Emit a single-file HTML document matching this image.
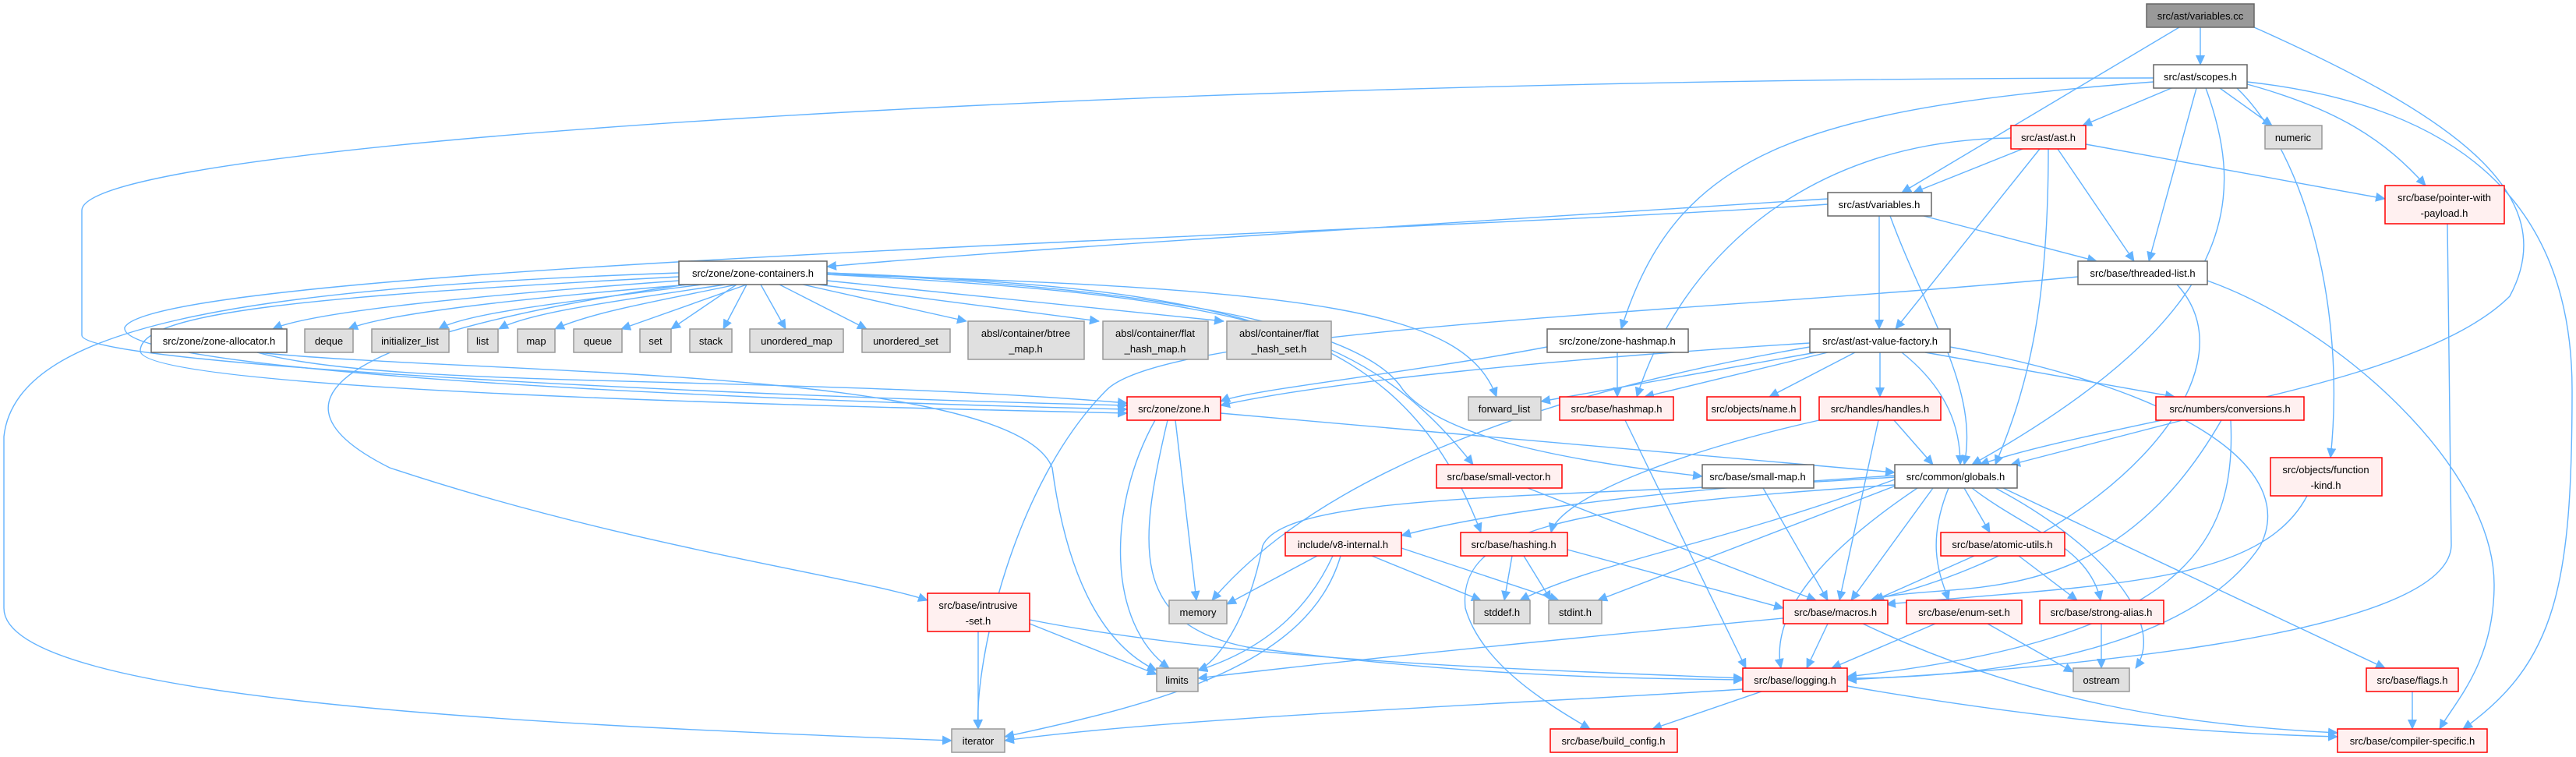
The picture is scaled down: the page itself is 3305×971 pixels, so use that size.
<!DOCTYPE html>
<html><head><meta charset="utf-8"><style>
html,body{margin:0;padding:0;background:#fff;}
svg{display:block;}
text{font-family:"Liberation Sans",sans-serif;font-size:13px;fill:#000;text-anchor:middle;}
.e path{fill:none;stroke:#63b3ff;stroke-width:1.4;}
.w{fill:#fff;stroke:#666;stroke-width:1.5;}
.r{fill:#fff0f0;stroke:#ff0000;stroke-width:1.5;}
.g{fill:#e0e0e0;stroke:#999;stroke-width:1.5;}
.k{fill:#999;stroke:#666;stroke-width:1.5;}
</style></head><body>
<svg width="3305" height="971" viewBox="0 0 3305 971" xmlns="http://www.w3.org/2000/svg">
<defs><marker id="a" markerUnits="userSpaceOnUse" markerWidth="14" markerHeight="12" refX="12" refY="6" orient="auto"><path d="M0,0 L13,6 L0,12 z" fill="#63b3ff"/></marker></defs>
<g class="e">
<path d="M2823 35 L2823 83" marker-end="url(#a)"/>
<path d="M2796 35 L2440 247" marker-end="url(#a)"/>
<path d="M2892 35 C3150 150 3290 250 3220 380 C3100 500 2700 540 2540 596" marker-end="url(#a)"/>
<path d="M2786 113 L2672 161" marker-end="url(#a)"/>
<path d="M2848 113 L2915 161" marker-end="url(#a)"/>
<path d="M2883 108 C3000 140 3060 180 3112 238" marker-end="url(#a)"/>
<path d="M2818 113 L2757 335" marker-end="url(#a)"/>
<path d="M2830 113 C2880 250 2880 400 2530 596" marker-end="url(#a)"/>
<path d="M2883 105 C3200 140 3300 300 3300 500 C3300 750 3280 850 3160 935" marker-end="url(#a)"/>
<path d="M2763 100 C1500 100 105 180 105 270 L105 430 C105 470 1000 510 1446 520" marker-end="url(#a)"/>
<path d="M2763 105 C2300 140 2150 200 2080 422" marker-end="url(#a)"/>
<path d="M2870 113 C2960 200 3010 400 2990 587" marker-end="url(#a)"/>
<path d="M2595 191 L2455 247" marker-end="url(#a)"/>
<path d="M2617 191 L2432 422" marker-end="url(#a)"/>
<path d="M2640 191 L2738 335" marker-end="url(#a)"/>
<path d="M2676 185 L3060 255" marker-end="url(#a)"/>
<path d="M2628 191 C2628 400 2600 500 2560 596" marker-end="url(#a)"/>
<path d="M2580 177 C2300 180 2150 350 2100 509" marker-end="url(#a)"/>
<path d="M2345 255 C1800 290 1300 320 1061 342" marker-end="url(#a)"/>
<path d="M2345 262 C1800 300 200 340 160 420 C150 480 1000 515 1446 525" marker-end="url(#a)"/>
<path d="M2468 277 L2690 335" marker-end="url(#a)"/>
<path d="M2411 277 L2411 422" marker-end="url(#a)"/>
<path d="M2425 277 C2470 400 2540 500 2520 596" marker-end="url(#a)"/>
<path d="M2666 355 C2200 400 1500 420 1420 500 C1300 620 1250 850 1255 935" marker-end="url(#a)"/>
<path d="M2832 360 C3000 420 3200 600 3200 750 C3200 850 3150 900 3130 935" marker-end="url(#a)"/>
<path d="M2793 365 C2900 480 2700 700 2400 770" marker-end="url(#a)"/>
<path d="M871 360 C600 380 400 400 350 422" marker-end="url(#a)"/>
<path d="M885 365 C700 380 500 400 447 422" marker-end="url(#a)"/>
<path d="M900 365 C750 385 600 400 563 422" marker-end="url(#a)"/>
<path d="M930 365 C800 385 680 400 640 422" marker-end="url(#a)"/>
<path d="M945 365 C850 385 760 400 712 422" marker-end="url(#a)"/>
<path d="M958 365 L797 422" marker-end="url(#a)"/>
<path d="M945 365 L861 422" marker-end="url(#a)"/>
<path d="M958 365 L928 422" marker-end="url(#a)"/>
<path d="M976 365 L1008 422" marker-end="url(#a)"/>
<path d="M1000 365 L1112 422" marker-end="url(#a)"/>
<path d="M1030 365 L1240 412" marker-end="url(#a)"/>
<path d="M1050 365 L1410 412" marker-end="url(#a)"/>
<path d="M1061 360 L1570 412" marker-end="url(#a)"/>
<path d="M1061 352 C1700 370 1880 400 1920 509" marker-end="url(#a)"/>
<path d="M1061 350 C1600 370 1800 420 1900 683" marker-end="url(#a)"/>
<path d="M1061 352 C1600 380 1750 420 1890 596" marker-end="url(#a)"/>
<path d="M1061 350 C1500 370 1750 420 1800 500 C1850 560 2000 590 2184 611" marker-end="url(#a)"/>
<path d="M871 355 C400 380 180 400 180 450 C180 500 1000 520 1446 530" marker-end="url(#a)"/>
<path d="M880 365 C500 420 300 500 500 600 C800 700 1100 740 1190 770" marker-end="url(#a)"/>
<path d="M871 350 C300 370 20 420 5 560 L5 780 C5 900 700 930 1221 950" marker-end="url(#a)"/>
<path d="M330 452 C600 480 1300 470 1350 600 C1370 750 1420 830 1484 860" marker-end="url(#a)"/>
<path d="M330 452 C500 500 1000 480 1446 517" marker-end="url(#a)"/>
<path d="M1985 445 C1800 480 1600 500 1566 515" marker-end="url(#a)"/>
<path d="M2075 452 L2075 509" marker-end="url(#a)"/>
<path d="M2322 440 C2000 460 1700 490 1566 520" marker-end="url(#a)"/>
<path d="M2330 452 L1977 515" marker-end="url(#a)"/>
<path d="M2345 452 L2110 509" marker-end="url(#a)"/>
<path d="M2380 452 L2270 509" marker-end="url(#a)"/>
<path d="M2412 452 L2412 509" marker-end="url(#a)"/>
<path d="M2470 452 L2790 509" marker-end="url(#a)"/>
<path d="M2440 452 C2500 500 2515 550 2515 596" marker-end="url(#a)"/>
<path d="M2322 445 C2000 500 1700 600 1555 770" marker-end="url(#a)"/>
<path d="M2502 445 C2800 500 2950 600 2900 700 C2800 850 2500 870 2370 870" marker-end="url(#a)"/>
<path d="M3140 287 L3145 700 C3140 820 2600 860 2370 872" marker-end="url(#a)"/>
<path d="M1508 539 L1535 770" marker-end="url(#a)"/>
<path d="M1482 539 C1420 650 1420 800 1500 857" marker-end="url(#a)"/>
<path d="M1566 530 L2431 606" marker-end="url(#a)"/>
<path d="M1498 539 C1460 700 1450 800 1600 830 C1900 870 2100 870 2236 872" marker-end="url(#a)"/>
<path d="M2085 539 L2240 857" marker-end="url(#a)"/>
<path d="M2430 539 L2480 596" marker-end="url(#a)"/>
<path d="M2410 539 L2360 770" marker-end="url(#a)"/>
<path d="M2334 539 C2150 580 2000 640 1990 683" marker-end="url(#a)"/>
<path d="M2800 539 L2580 596" marker-end="url(#a)"/>
<path d="M2850 539 C2700 800 2500 740 2400 770" marker-end="url(#a)"/>
<path d="M2862 539 C2870 700 2800 820 2370 868" marker-end="url(#a)"/>
<path d="M1960 626 L2330 770" marker-end="url(#a)"/>
<path d="M2262 626 L2345 770" marker-end="url(#a)"/>
<path d="M2431 610 C2100 630 1900 660 1798 687" marker-end="url(#a)"/>
<path d="M2520 626 L2553 683" marker-end="url(#a)"/>
<path d="M2480 626 L2375 770" marker-end="url(#a)"/>
<path d="M2500 626 C2470 700 2490 740 2500 770" marker-end="url(#a)"/>
<path d="M2530 626 C2600 680 2680 700 2695 770" marker-end="url(#a)"/>
<path d="M2460 626 C2350 700 2270 780 2285 857" marker-end="url(#a)"/>
<path d="M2560 626 C2700 700 2780 800 2740 857" marker-end="url(#a)"/>
<path d="M2570 626 L3060 857" marker-end="url(#a)"/>
<path d="M2440 620 L2050 770" marker-end="url(#a)"/>
<path d="M2431 615 C2200 700 2050 720 1950 770" marker-end="url(#a)"/>
<path d="M2431 612 C2000 640 1650 630 1620 700 C1600 800 1560 850 1537 860" marker-end="url(#a)"/>
<path d="M2431 622 C2000 650 1870 680 1880 780 C1900 850 1980 900 2040 935" marker-end="url(#a)"/>
<path d="M2960 636 C2900 750 2700 750 2420 775" marker-end="url(#a)"/>
<path d="M1690 713 L1574 775" marker-end="url(#a)"/>
<path d="M1760 713 L1900 770" marker-end="url(#a)"/>
<path d="M1798 703 L2000 770" marker-end="url(#a)"/>
<path d="M1710 713 C1670 800 1600 840 1537 860" marker-end="url(#a)"/>
<path d="M1720 713 C1680 850 1500 900 1289 945" marker-end="url(#a)"/>
<path d="M1940 713 L1930 770" marker-end="url(#a)"/>
<path d="M1955 713 L1990 770" marker-end="url(#a)"/>
<path d="M2011 705 L2288 780" marker-end="url(#a)"/>
<path d="M2533 713 L2405 770" marker-end="url(#a)"/>
<path d="M2590 713 L2665 770" marker-end="url(#a)"/>
<path d="M1321 800 L1484 865" marker-end="url(#a)"/>
<path d="M1255 810 L1255 935" marker-end="url(#a)"/>
<path d="M1321 795 C1600 850 2000 860 2236 870" marker-end="url(#a)"/>
<path d="M2288 793 C2000 820 1700 850 1537 870" marker-end="url(#a)"/>
<path d="M2345 800 L2318 857" marker-end="url(#a)"/>
<path d="M2390 800 C2600 900 2800 930 2999 940" marker-end="url(#a)"/>
<path d="M2483 800 L2350 857" marker-end="url(#a)"/>
<path d="M2550 800 L2660 862" marker-end="url(#a)"/>
<path d="M2696 800 L2696 857" marker-end="url(#a)"/>
<path d="M2236 884 C2000 900 1500 920 1289 950" marker-end="url(#a)"/>
<path d="M2260 887 L2120 935" marker-end="url(#a)"/>
<path d="M2370 880 C2600 920 2800 940 2999 945" marker-end="url(#a)"/>
<path d="M3095 887 L3095 935" marker-end="url(#a)"/>
</g>
<g>
<rect class="k" x="2754" y="5" width="138" height="30"/><text x="2823" y="25">src/ast/variables.cc</text>
<rect class="w" x="2763" y="83" width="120" height="30"/><text x="2823" y="103">src/ast/scopes.h</text>
<rect class="r" x="2580" y="161" width="96" height="30"/><text x="2628" y="181">src/ast/ast.h</text>
<rect class="g" x="2906" y="161" width="73" height="30"/><text x="2942" y="181">numeric</text>
<rect class="w" x="2345" y="247" width="133" height="30"/><text x="2411" y="267">src/ast/variables.h</text>
<rect class="r" x="3060" y="238" width="153" height="49"/><text x="3136" y="258">src/base/pointer-with</text><text x="3136" y="278">-payload.h</text>
<rect class="w" x="2666" y="335" width="166" height="30"/><text x="2749" y="355">src/base/threaded-list.h</text>
<rect class="w" x="871" y="335" width="190" height="30"/><text x="966" y="355">src/zone/zone-containers.h</text>
<rect class="w" x="2322" y="422" width="180" height="30"/><text x="2412" y="442">src/ast/ast-value-factory.h</text>
<rect class="w" x="194" y="422" width="174" height="30"/><text x="281" y="442">src/zone/zone-allocator.h</text>
<rect class="g" x="391" y="422" width="62" height="30"/><text x="422" y="442">deque</text>
<rect class="g" x="477" y="422" width="99" height="30"/><text x="526" y="442">initializer_list</text>
<rect class="g" x="600" y="422" width="39" height="30"/><text x="619" y="442">list</text>
<rect class="g" x="664" y="422" width="48" height="30"/><text x="688" y="442">map</text>
<rect class="g" x="736" y="422" width="62" height="30"/><text x="767" y="442">queue</text>
<rect class="g" x="821" y="422" width="40" height="30"/><text x="841" y="442">set</text>
<rect class="g" x="885" y="422" width="54" height="30"/><text x="912" y="442">stack</text>
<rect class="g" x="962" y="422" width="120" height="30"/><text x="1022" y="442">unordered_map</text>
<rect class="g" x="1106" y="422" width="113" height="30"/><text x="1162" y="442">unordered_set</text>
<rect class="g" x="1242" y="412" width="149" height="49"/><text x="1316" y="432">absl/container/btree</text><text x="1316" y="452">_map.h</text>
<rect class="g" x="1415" y="412" width="135" height="49"/><text x="1482" y="432">absl/container/flat</text><text x="1482" y="452">_hash_map.h</text>
<rect class="g" x="1574" y="412" width="134" height="49"/><text x="1641" y="432">absl/container/flat</text><text x="1641" y="452">_hash_set.h</text>
<rect class="w" x="1985" y="422" width="181" height="30"/><text x="2075" y="442">src/zone/zone-hashmap.h</text>
<rect class="r" x="1446" y="509" width="120" height="30"/><text x="1506" y="529">src/zone/zone.h</text>
<rect class="g" x="1884" y="509" width="93" height="30"/><text x="1930" y="529">forward_list</text>
<rect class="r" x="2001" y="509" width="146" height="30"/><text x="2074" y="529">src/base/hashmap.h</text>
<rect class="r" x="2190" y="509" width="120" height="30"/><text x="2250" y="529">src/objects/name.h</text>
<rect class="r" x="2334" y="509" width="156" height="30"/><text x="2412" y="529">src/handles/handles.h</text>
<rect class="r" x="2766" y="509" width="190" height="30"/><text x="2861" y="529">src/numbers/conversions.h</text>
<rect class="r" x="1843" y="596" width="161" height="30"/><text x="1923" y="616">src/base/small-vector.h</text>
<rect class="w" x="2184" y="596" width="143" height="30"/><text x="2255" y="616">src/base/small-map.h</text>
<rect class="w" x="2431" y="596" width="157" height="30"/><text x="2509" y="616">src/common/globals.h</text>
<rect class="r" x="2913" y="587" width="143" height="49"/><text x="2984" y="607">src/objects/function</text><text x="2984" y="627">-kind.h</text>
<rect class="r" x="1649" y="683" width="149" height="30"/><text x="1723" y="703">include/v8-internal.h</text>
<rect class="r" x="1874" y="683" width="137" height="30"/><text x="1942" y="703">src/base/hashing.h</text>
<rect class="r" x="2490" y="683" width="159" height="30"/><text x="2569" y="703">src/base/atomic-utils.h</text>
<rect class="r" x="1190" y="761" width="131" height="49"/><text x="1255" y="781">src/base/intrusive</text><text x="1255" y="801">-set.h</text>
<rect class="g" x="1500" y="770" width="74" height="30"/><text x="1537" y="790">memory</text>
<rect class="g" x="1891" y="770" width="72" height="30"/><text x="1927" y="790">stddef.h</text>
<rect class="g" x="1987" y="770" width="68" height="30"/><text x="2021" y="790">stdint.h</text>
<rect class="r" x="2288" y="770" width="134" height="30"/><text x="2355" y="790">src/base/macros.h</text>
<rect class="r" x="2446" y="770" width="148" height="30"/><text x="2520" y="790">src/base/enum-set.h</text>
<rect class="r" x="2617" y="770" width="159" height="30"/><text x="2696" y="790">src/base/strong-alias.h</text>
<rect class="g" x="1484" y="857" width="53" height="30"/><text x="1510" y="877">limits</text>
<rect class="r" x="2236" y="857" width="134" height="30"/><text x="2303" y="877">src/base/logging.h</text>
<rect class="g" x="2660" y="857" width="72" height="30"/><text x="2696" y="877">ostream</text>
<rect class="r" x="3036" y="857" width="118" height="30"/><text x="3095" y="877">src/base/flags.h</text>
<rect class="g" x="1221" y="935" width="68" height="30"/><text x="1255" y="955">iterator</text>
<rect class="r" x="1989" y="935" width="163" height="30"/><text x="2070" y="955">src/base/build_config.h</text>
<rect class="r" x="2999" y="935" width="192" height="30"/><text x="3095" y="955">src/base/compiler-specific.h</text>
</g>
</svg>
</body></html>
